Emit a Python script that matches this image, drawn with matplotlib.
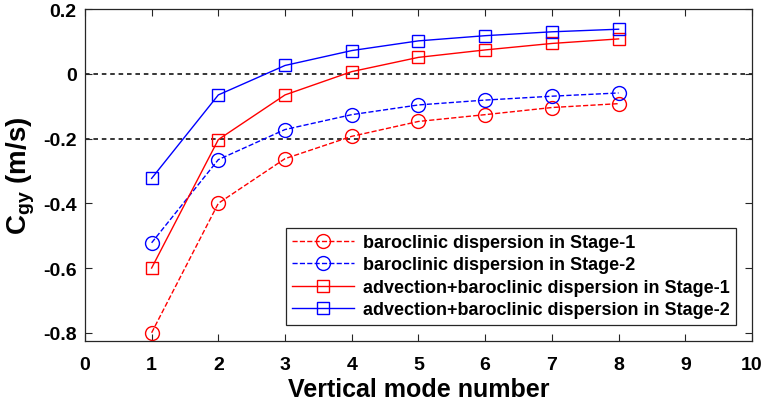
import matplotlib
matplotlib.use('Agg')
import matplotlib.pyplot as plt
import numpy as np

plt.rcParams['font.family'] = 'Liberation Sans'
plt.rcParams['font.weight'] = 'bold'
plt.rcParams['mathtext.fontset'] = 'custom'
plt.rcParams['mathtext.rm'] = 'Liberation Sans:bold'
plt.rcParams['mathtext.bf'] = 'Liberation Sans:bold'
plt.rcParams['mathtext.it'] = 'Liberation Sans:bold'

modes = [1, 2, 3, 4, 5, 6, 7, 8]
baro_s1 = [-0.80, -0.40, -0.262, -0.193, -0.147, -0.126, -0.104, -0.092]
baro_s2 = [-0.522, -0.265, -0.172, -0.126, -0.096, -0.081, -0.069, -0.059]
adv_s1 = [-0.60, -0.203, -0.065, 0.007, 0.051, 0.074, 0.094, 0.108]
adv_s2 = [-0.323, -0.065, 0.026, 0.072, 0.102, 0.118, 0.130, 0.138]
ref_lines = [0, -0.2]
yticks = [-0.8, -0.6, -0.4, -0.2, 0, 0.2]
ytick_labels = ['-0.8', '-0.6', '-0.4', '-0.2', '0', '0.2']

fig = plt.figure(figsize=(7.65, 4.06), dpi=100)
ax = fig.add_axes([0.111, 0.158, 0.872, 0.817])

for y in ref_lines:
    ax.axhline(y, color='k', linestyle=(0, (3, 2.5)), linewidth=1.1, zorder=1)

ax.plot(modes, baro_s1, 'r--o', mfc='none', ms=10, lw=1, mew=1,
        label='baroclinic dispersion in Stage-1')
ax.plot(modes, baro_s2, 'b--o', mfc='none', ms=10, lw=1, mew=1,
        label='baroclinic dispersion in Stage-2')
ax.plot(modes, adv_s1, 'r-s', mfc='none', ms=8, lw=1, mew=1,
        label='advection+baroclinic dispersion in Stage-1')
ax.plot(modes, adv_s2, 'b-s', mfc='none', ms=8, lw=1, mew=1,
        label='advection+baroclinic dispersion in Stage-2')

ax.set_xlim(0, 10)
ax.set_ylim(-0.825, 0.2)
ax.set_xticks(range(0, 11))
ax.set_yticks(yticks)
ax.set_yticklabels(ytick_labels)
ax.tick_params(direction='in', top=True, right=True, labelsize=14,
               length=5, width=0.8, color='#262626')
ax.tick_params(axis='x', pad=11)
ax.tick_params(axis='y', pad=6)
for s in ax.spines.values():
    s.set_color('#262626')
    s.set_linewidth(0.9)

ax.set_xlabel('Vertical mode number', fontsize=18, fontweight='bold', labelpad=3)
ax.set_ylabel(r'$\mathregular{C_{gy}}$ (m/s)', fontsize=20, fontweight='bold', labelpad=4)

leg = ax.legend(loc='lower right', fontsize=13, handlelength=3.4,
                fancybox=False, edgecolor='#262626', framealpha=1,
                borderaxespad=0.9, labelspacing=0.3, borderpad=0.35,
                handletextpad=0.5)
leg.get_frame().set_linewidth(0.9)

fig.savefig('out.png', dpi=100)
